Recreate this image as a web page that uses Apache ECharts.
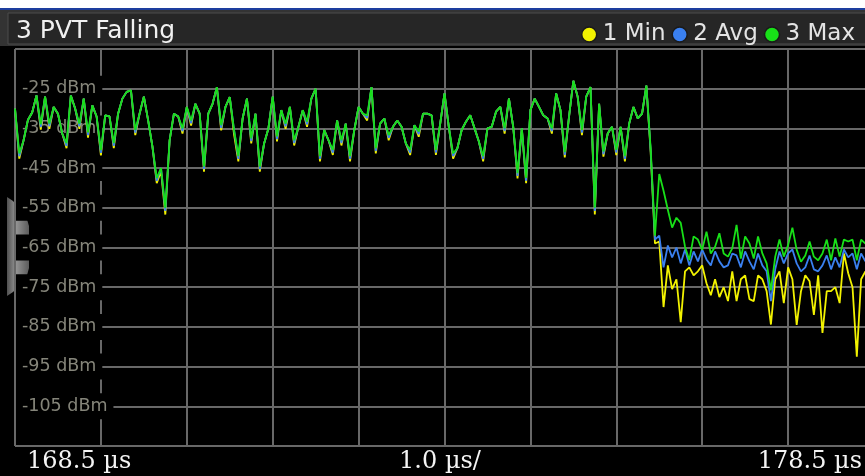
<!DOCTYPE html>
<html>
	<head>
		<meta charset="UTF-8">
		<title>3 PVT Falling</title>
		<script type="text/javascript" src="https://cdn.jsdelivr.net/npm/echarts@6/dist/echarts.min.js"></script>
		<style>
			html, body { margin: 0; padding: 0; background: #000; }
			#chart { width: 865px; height: 476px; }
		</style>
	</head>
	<body>
		<div id="chart"></div>
		<script>
		// sweep: 168.5 us .. 178.5 us, one trace point every 0.05 us
		var sweepStartUs = 168.5;
		var sweepStepUs = 0.05;

		var traceNames = ['1 Min', '2 Avg', '3 Max'];
		var traceColors = ['#f2f200', '#3a80f0', '#18e018'];
		var bottomLabels = ['168.5 µs', '1.0 µs/', '178.5 µs'];

		// trace 3 (max hold), dBm
		var maxTrace = [
			-30, -41.3, -38, -32.9, -31, -26.7, -34, -27, -33.8, -29.6,
			-31.3, -36.3, -38.7, -26.7, -30, -33.8, -27.5, -36, -29.2, -32,
			-40.5, -31.7, -32, -38.7, -31.3, -27.5, -25.8, -25.4, -35.4, -31.3,
			-27, -33, -39.6, -47.5, -45, -55, -38, -31.3, -32, -35,
			-29.6, -33, -28.8, -31.3, -44.6, -31.3, -28.8, -24.6, -34.2, -29.6,
			-27.1, -35.4, -42, -32.5, -27.5, -37.5, -31.3, -44.6, -38.8, -35,
			-27, -37, -30.4, -33.8, -29.6, -38, -34.6, -30.4, -33.3, -27.5,
			-25, -42, -35.4, -38, -40.4, -33, -38, -33.8, -42, -35.4,
			-29.6, -31.3, -31.7, -24.6, -40, -33.8, -32.5, -36.7, -34.6, -33,
			-34.6, -38.8, -40.4, -34.2, -35.8, -31.3, -31.3, -31.7, -40.4, -33.8,
			-26.2, -34.6, -41.3, -40, -35.4, -33.3, -31.7, -35, -38.3, -42,
			-35, -34.6, -30.8, -29.6, -35, -27.5, -34.6, -46.3, -35, -47.5,
			-30.4, -27.5, -29.6, -31.7, -32.5, -35, -26.2, -30.4, -41, -32,
			-23, -27, -35.4, -27, -24.6, -55, -28.8, -40.8, -36.3, -34.6,
			-40.4, -34.6, -42, -33.8, -29.6, -32.5, -31.3, -24.2, -40, -62,
			-46.5, -50.7, -55.5, -60, -57.5, -58.8, -64.8, -68.2, -62.2, -63,
			-65.6, -61, -66.5, -64.8, -61.4, -66.5, -67.3, -65.2, -59.3, -67.8,
			-62.2, -64, -67.8, -62.2, -66.5, -69, -75.8, -67.3, -63, -67.3,
			-64.4, -60, -65.6, -68.6, -67, -63.5, -67.3, -68.2, -66.5, -63,
			-68.2, -62.7, -67.3, -63, -63.5, -63, -68.2, -63, -64, -63.5, -65
		];

		// trace 2 (average), dBm
		var avgTrace = [
			-30, -42, -38, -32.9, -31, -26.7, -34.7, -27, -34.5, -29.6,
			-31.3, -36.3, -39.4, -26.7, -30, -34.5, -27.5, -36.7, -29.2, -32,
			-41.2, -31.7, -32, -39.4, -31.3, -27.5, -25.8, -25.4, -36.1, -31.3,
			-27, -33, -39.6, -48.2, -45, -55.8, -38, -31.3, -32, -35.7,
			-29.6, -33.7, -28.8, -31.3, -45.3, -31.3, -28.8, -24.6, -34.9, -29.6,
			-27.1, -35.4, -42.7, -32.5, -27.5, -38.2, -31.3, -45.3, -38.8, -35,
			-27, -37.7, -30.4, -34.5, -29.6, -38.7, -34.6, -30.4, -34, -27.5,
			-25, -42.7, -35.4, -38, -41.1, -33, -38.7, -33.8, -42.7, -35.4,
			-29.6, -31.3, -32.4, -24.6, -40.7, -33.8, -32.5, -37.4, -34.6, -33,
			-34.6, -38.8, -41.1, -34.2, -36.5, -31.3, -31.3, -31.7, -41.1, -33.8,
			-26.2, -34.6, -42, -40, -35.4, -33.3, -31.7, -35, -38.3, -42.7,
			-35, -34.6, -30.8, -29.6, -35.7, -27.5, -34.6, -47, -35, -48.2,
			-30.4, -27.5, -29.6, -31.7, -32.5, -35.7, -26.2, -30.4, -41.7, -32,
			-23, -27, -36.1, -27, -24.6, -55.8, -28.8, -41.5, -36.3, -34.6,
			-41.1, -34.6, -42.7, -33.8, -29.6, -32.5, -31.3, -24.2, -40.5, -63,
			-62, -70, -64.5, -67.5, -65, -69, -65.5, -69.5, -66, -68.5,
			-65.5, -68, -69.5, -66, -68.5, -70, -69.5, -66.5, -67, -70,
			-66, -68.5, -70.5, -66.5, -69.5, -71, -78.5, -70.5, -66, -69,
			-66.5, -65.5, -69, -71, -70, -67, -70.5, -71, -69.5, -67,
			-70.5, -67.5, -70, -65.5, -67.5, -66.5, -70.5, -66.5, -68.5, -66.5, -68
		];

		// trace 1 (min hold), dBm
		var minTrace = [
			-30, -42.6, -38, -32.9, -31, -26.7, -35.3, -27, -35.1, -29.6,
			-31.3, -36.3, -40, -26.7, -30, -35.1, -27.5, -37.3, -29.2, -32,
			-41.8, -31.7, -32, -40, -31.3, -27.5, -25.8, -25.4, -36.7, -31.3,
			-27, -33, -39.6, -48.8, -45.8, -56.7, -38, -31.3, -32, -36.3,
			-29.6, -34.3, -28.8, -31.3, -45.9, -31.3, -28.8, -24.6, -35.5, -29.6,
			-27.1, -36.5, -43.3, -32.5, -27.5, -38.8, -31.3, -45.9, -38.8, -35,
			-27, -38.3, -30.4, -35.1, -29.6, -39.3, -34.6, -30.4, -34.6, -27.5,
			-25, -43.3, -35.4, -38, -41.7, -33, -39.3, -33.8, -43.3, -35.4,
			-29.6, -31.3, -33, -24.6, -41.3, -33.8, -32.5, -38, -34.6, -33,
			-34.6, -38.8, -41.7, -34.2, -37.1, -31.3, -31.3, -31.7, -41.7, -33.8,
			-26.2, -34.6, -42.6, -40, -35.4, -33.3, -31.7, -35, -38.3, -43.3,
			-35, -34.6, -30.8, -29.6, -36.3, -27.5, -34.6, -47.6, -35, -48.8,
			-30.4, -27.5, -29.6, -31.7, -32.5, -36.3, -26.2, -30.4, -42.3, -32,
			-23, -27, -36.7, -27, -24.6, -56.7, -28.8, -42.1, -36.3, -34.6,
			-41.7, -34.6, -43.3, -33.8, -29.6, -32.5, -31.3, -24.2, -41, -64,
			-63.5, -80, -69.5, -75.5, -73, -83.8, -71, -70, -72, -71,
			-69.5, -74, -77, -73, -77.5, -75, -78.5, -71, -78.5, -73,
			-72, -78, -78.5, -72, -73, -76, -84.4, -73, -71, -79,
			-70, -73, -84.5, -76, -72, -73.5, -82, -72, -86.5, -76,
			-76, -75, -79, -66.5, -71.5, -75, -92.5, -73, -71, -74, -72
		];

		function toPoints(trace) {
			return trace.map(function (v, i) {
				return [sweepStartUs + i * sweepStepUs, v];
			});
		}

		function create_option() {
			var traces = [minTrace, avgTrace, maxTrace];
			var series = traces.map(function (trace, k) {
				return {
					name: traceNames[k],
					type: 'line',
					showSymbol: false,
					symbol: 'none',
					clip: true,
					silent: true,
					color: traceColors[k],
					lineStyle: { color: traceColors[k], width: 1.8 },
					data: toPoints(trace)
				};
			});

			return {
				animation: false,
				backgroundColor: '#000',
				title: {
					text: '3 PVT Falling',
					left: 11,
					top: 14,
					textStyle: {
						color: '#f0f0f0',
						fontSize: 25,
						fontWeight: 'normal',
						fontFamily: 'DejaVu Sans'
					}
				},
				legend: {
					data: traceNames,
					right: 5,
					top: 18,
					icon: 'circle',
					itemWidth: 17,
					itemHeight: 15,
					itemGap: 6,
					itemStyle: { borderColor: '#1a1a1a', borderWidth: 1.5 },
					textStyle: { color: '#e4e4e4', fontSize: 23, fontFamily: 'DejaVu Sans' }
				},
				grid: {
					left: 15,
					top: 49,
					width: 859,
					height: 397,
					outerBoundsMode: 'none'
				},
				xAxis: {
					type: 'value',
					min: 168.5,
					max: 178.5,
					interval: 1,
					axisLine: { show: false },
					axisTick: { show: false },
					axisLabel: { show: false },
					splitLine: { lineStyle: { color: '#686868', width: 2 } }
				},
				yAxis: {
					type: 'value',
					min: -115,
					max: -15,
					interval: 10,
					axisLine: { show: false },
					axisTick: { show: false },
					axisLabel: {
						inside: true,
						margin: 1,
						showMinLabel: false,
						showMaxLabel: false,
						formatter: '{value} dBm',
						color: '#85857a',
						fontSize: 17.5,
						fontFamily: 'DejaVu Sans',
						backgroundColor: '#000',
						padding: [4, 6, 4, 6]
					},
					splitLine: { lineStyle: { color: '#686868', width: 2 } }
				},
				graphic: [
					// window frame and title bar
					{ type: 'rect', z: -10, shape: { x: 0, y: 0, width: 865, height: 8 }, style: { fill: '#ffffff' } },
					{ type: 'rect', z: -10, shape: { x: 0, y: 8, width: 865, height: 2 }, style: { fill: '#1d3e9e' } },
					{ type: 'rect', z: -10, shape: { x: 0, y: 10, width: 865, height: 36 }, style: { fill: '#333333' } },
					{ type: 'rect', z: -9, shape: { x: 8, y: 13, width: 865, height: 31 }, style: { fill: '#262626', stroke: '#4c4c4c', lineWidth: 1 } },
					// side handle
					{
						type: 'polygon', z: -9,
						shape: { points: [[7, 197], [13, 201], [26, 216], [29, 226], [29, 268], [26, 279], [13, 292], [7, 296]] },
						style: {
							fill: new echarts.graphic.LinearGradient(0, 0, 1, 0, [
								{ offset: 0, color: '#505050' },
								{ offset: 0.4, color: '#959595' },
								{ offset: 1, color: '#5c5c5c' }
							])
						}
					},
					// sweep annotation under the plot
					{ type: 'text', x: 27, y: 462, style: { text: bottomLabels[0], fill: '#f4f4f4', font: '24px "DejaVu Serif"', align: 'left', verticalAlign: 'middle' } },
					{ type: 'text', x: 440, y: 462, style: { text: bottomLabels[1], fill: '#f4f4f4', font: '24px "DejaVu Serif"', align: 'center', verticalAlign: 'middle' } },
					{ type: 'text', x: 862, y: 462, style: { text: bottomLabels[2], fill: '#f4f4f4', font: '24px "DejaVu Serif"', align: 'right', verticalAlign: 'middle' } }
				],
				series: series
			};
		}

		var myChart = echarts.init(document.getElementById('chart'));
		myChart.setOption(create_option());
		</script>
	</body>
</html>
